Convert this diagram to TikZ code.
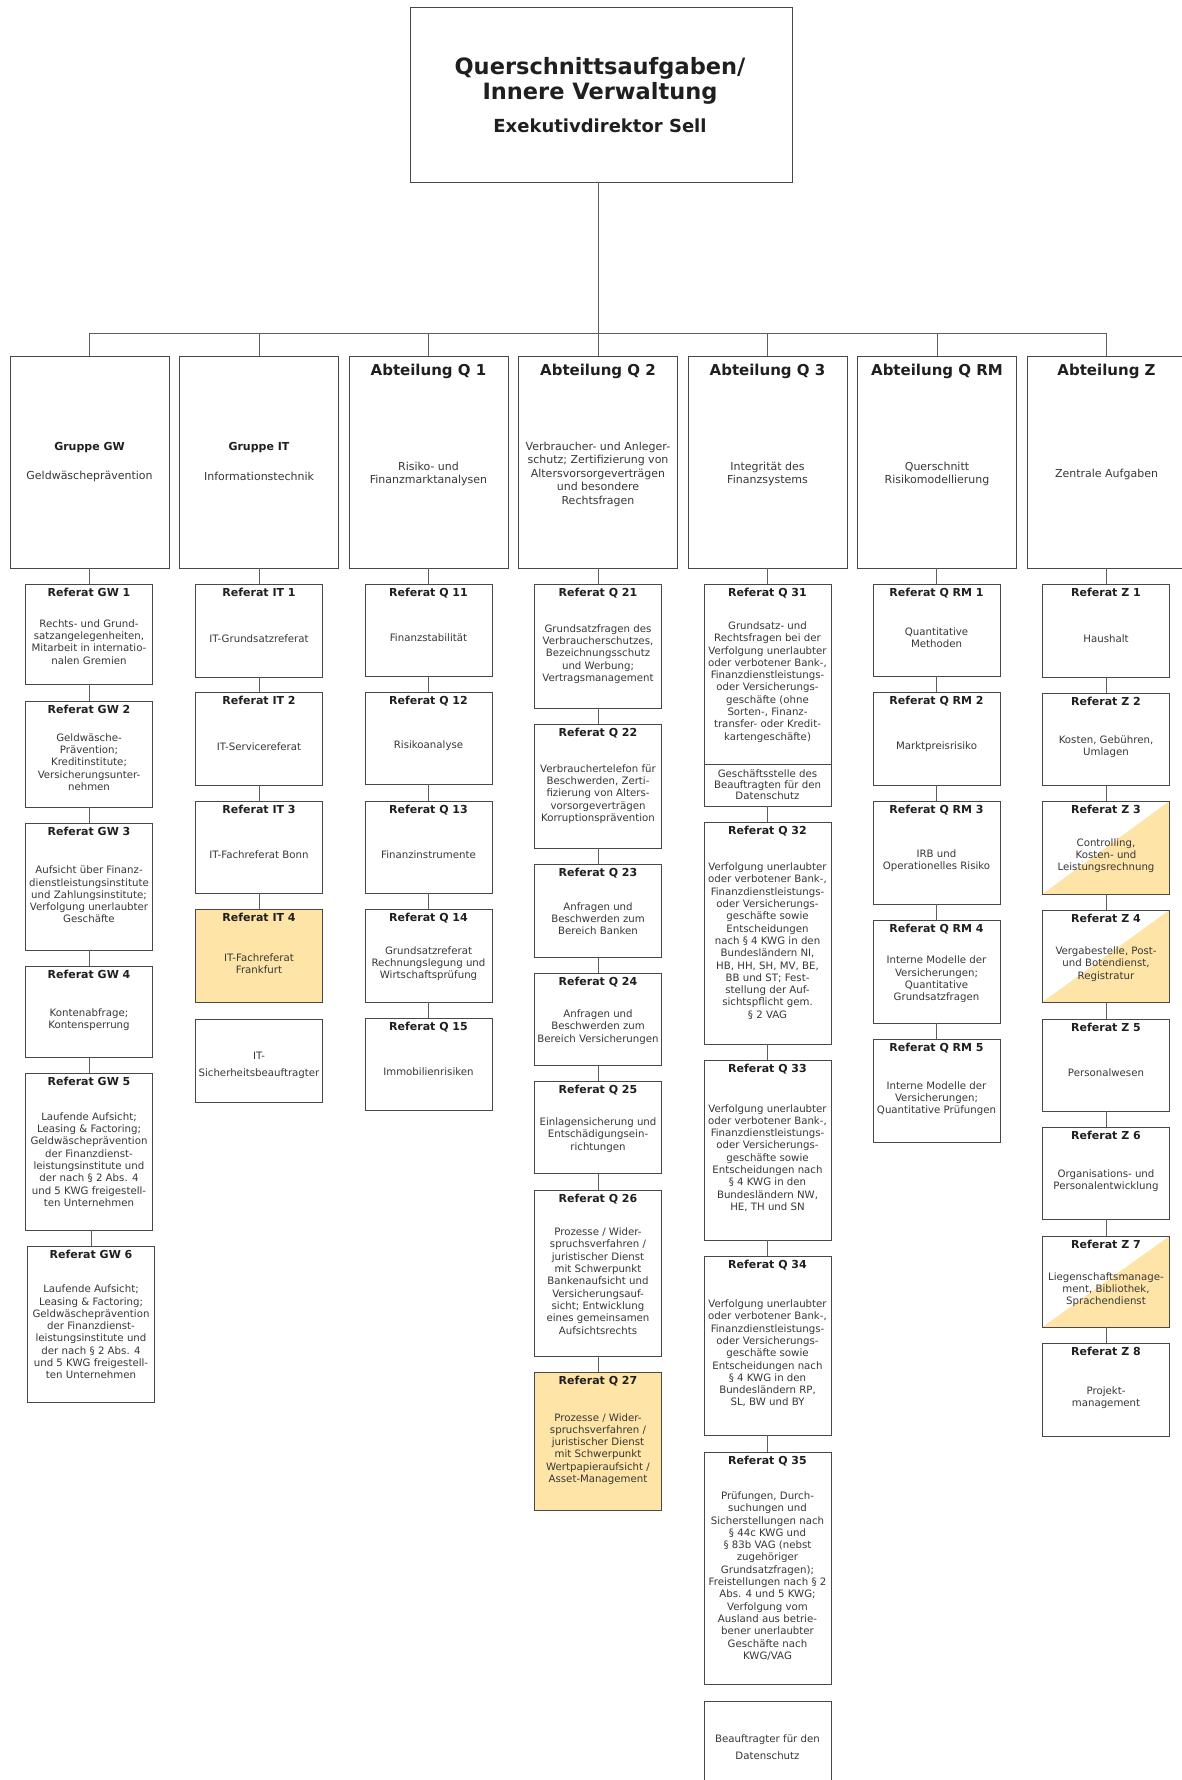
\documentclass[tikz,border=0pt]{standalone}
\usepackage{fontspec}
\setmainfont{DejaVu Sans}

\definecolor{gelb}{RGB}{254,228,166}
\definecolor{rahmen}{RGB}{72,72,72}
\definecolor{linie}{RGB}{95,95,95}
\definecolor{schrift}{RGB}{55,55,55}

% Referat: [style]{name}{x}{top}{bottom}{title}{text}
\newcommand*{\referat}[7][]{%
  \node[refbox,#1,minimum height={#5-#4}] (#2) at (#3,{(#4+#5)/2}) {};
  \node[reftitle] (#2t) at (#3,{#4+12.5}) {#6};
  \node[reftext] (#2x) at (#3,{(#4+16+#5)/2}) {#7};
}
% Abteilung: {name}{x}{title}{text}
\newcommand*{\abteilung}[4]{%
  \node[abtbox] (#1) at (#2,462) {};
  \node[abttitle] (#1t) at (#2,375) {#3};
  \node[abttext] (#1x) at (#2,474) {#4};
}
% Gruppe: {name}{x}{title}{text}
\newcommand*{\gruppe}[4]{%
  \node[abtbox] (#1) at (#2,462) {};
  \node[grptitle] (#1t) at (#2,448) {#3};
  \node[abttext] (#1x) at (#2,476) {#4};
}

\begin{document}
\begin{tikzpicture}
[
	x=1pt, y=-1pt,
	box/.style={draw=rahmen,line width=0.95pt,fill=white,inner sep=0pt},
	refbox/.style={box,minimum width=127pt},
	abtbox/.style={box,minimum width=159pt,minimum height=212pt},
	gelbbox/.style={fill=gelb},
	halbgelb/.style={path picture={\fill[gelb] (path picture bounding box.south west)
		-- (path picture bounding box.north east) -- (path picture bounding box.south east) -- cycle;}},
	reftitle/.style={font=\fontsize{11}{13}\selectfont\bfseries,text=black!88,anchor=base,inner sep=0pt},
	reftext/.style={font=\fontsize{10.2}{12.3}\selectfont,text=schrift,align=center,inner sep=0pt},
	weittext/.style={reftext,font=\fontsize{10.2}{17}\selectfont},
	abttitle/.style={font=\fontsize{15}{17}\selectfont\bfseries,text=black!88,anchor=base,inner sep=0pt},
	grptitle/.style={font=\fontsize{11}{13}\selectfont\bfseries,text=black!88,inner sep=0pt},
	abttext/.style={font=\fontsize{11}{13.5}\selectfont,text=schrift,align=center,inner sep=0pt},
	verbinder/.style={draw=linie,line width=0.95pt}
]
	\useasboundingbox (0,0) rectangle (1181,1780);

	% top
	\node[box,minimum width=382pt,minimum height=175pt] (top) at (601,94.5) {};
	\node[font=\fontsize{22.5}{25}\selectfont\bfseries,text=black!88,align=center,inner sep=0pt]
		(topt) at (600,80.5) {Querschnittsaufgaben/\\Innere Verwaltung};
	\node[font=\fontsize{18}{20}\selectfont\bfseries,text=black!88,inner sep=0pt]
		(tops) at (600,126) {Exekutivdirektor Sell};

	% Gruppen und Abteilungen
	\gruppe{hgw}{89.5}{Gruppe GW}{Geldwäscheprävention}
	\gruppe{hit}{259}{Gruppe IT}{Informationstechnik}
	\abteilung{hq1}{428.5}{Abteilung Q 1}{Risiko- und\\Finanzmarktanalysen}
	\abteilung{hq2}{598}{Abteilung Q 2}{Verbraucher- und Anleger-\\schutz; Zertifizierung von\\Altersvorsorgeverträgen\\und besondere\\Rechtsfragen}
	\abteilung{hq3}{767.5}{Abteilung Q 3}{Integrität des\\Finanzsystems}
	\abteilung{hrm}{937}{Abteilung Q RM}{Querschnitt\\Risikomodellierung}
	\abteilung{hz}{1106.5}{Abteilung Z}{Zentrale Aufgaben}

	\coordinate (bus) at (598,333);
	\draw[verbinder] (bus) -- (bus |- top.south);
	\foreach \h in {hgw,hit,hq1,hq2,hq3,hrm,hz}
		\draw[verbinder] (\h.north) |- (bus);

	% GW
	\referat{gw1}{89}{584}{684}{Referat GW 1}{Rechts- und Grund-\\satzangelegenheiten,\\Mitarbeit in internatio-\\nalen Gremien}
	\referat{gw2}{89}{701}{807}{Referat GW 2}{Geldwäsche-\\Prävention;\\Kreditinstitute;\\Versicherungsunter-\\nehmen}
	\referat{gw3}{89}{823}{950}{Referat GW 3}{Aufsicht über Finanz-\\dienstleistungsinstitute\\und Zahlungsinstitute;\\Verfolgung unerlaubter\\Geschäfte}
	\referat{gw4}{89}{966}{1057}{Referat GW 4}{Kontenabfrage;\\Kontensperrung}
	\referat{gw5}{89}{1073}{1230}{Referat GW 5}{Laufende Aufsicht;\\Leasing \& Factoring;\\Geldwäscheprävention\\der Finanzdienst-\\leistungsinstitute und\\der nach § 2 Abs. 4\\und 5 KWG freigestell-\\ten Unternehmen}
	\referat{gw6}{91}{1246}{1402}{Referat GW 6}{Laufende Aufsicht;\\Leasing \& Factoring;\\Geldwäscheprävention\\der Finanzdienst-\\leistungsinstitute und\\der nach § 2 Abs. 4\\und 5 KWG freigestell-\\ten Unternehmen}

	% IT
	\referat{it1}{259}{584}{677}{Referat IT 1}{IT-Grundsatzreferat}
	\referat{it2}{259}{692}{785}{Referat IT 2}{IT-Servicereferat}
	\referat{it3}{259}{801}{893}{Referat IT 3}{IT-Fachreferat Bonn}
	\referat[gelbbox]{it4}{259}{909}{1002}{Referat IT 4}{IT-Fachreferat\\Frankfurt}
	\node[refbox,minimum height=83pt] (itsb) at (259,1060.5) {};
	\node[weittext] (itsbx) at (259,1065) {IT-\\Sicherheitsbeauftragter};

	% Q 1
	\referat{q11}{428.5}{584}{676}{Referat Q 11}{Finanzstabilität}
	\referat{q12}{428.5}{692}{784}{Referat Q 12}{Risikoanalyse}
	\referat{q13}{428.5}{801}{893}{Referat Q 13}{Finanzinstrumente}
	\referat{q14}{428.5}{909}{1002}{Referat Q 14}{Grundsatzreferat\\Rechnungslegung und\\Wirtschaftsprüfung}
	\referat{q15}{428.5}{1018}{1110}{Referat Q 15}{Immobilienrisiken}

	% Q 2
	\referat{q21}{598}{584}{708}{Referat Q 21}{Grundsatzfragen des\\Verbraucherschutzes,\\Bezeichnungsschutz\\und Werbung;\\Vertragsmanagement}
	\referat{q22}{598}{724}{848}{Referat Q 22}{Verbrauchertelefon für\\Beschwerden, Zerti-\\fizierung von Alters-\\vorsorgeverträgen\\Korruptionsprävention}
	\referat{q23}{598}{864}{957}{Referat Q 23}{Anfragen und\\Beschwerden zum\\Bereich Banken}
	\referat{q24}{598}{973}{1065}{Referat Q 24}{Anfragen und\\Beschwerden zum\\Bereich Versicherungen}
	\referat{q25}{598}{1081}{1173}{Referat Q 25}{Einlagensicherung und\\Entschädigungsein-\\richtungen}
	\referat{q26}{598}{1190}{1356}{Referat Q 26}{Prozesse / Wider-\\spruchsverfahren /\\juristischer Dienst\\mit Schwerpunkt\\Bankenaufsicht und\\Versicherungsauf-\\sicht; Entwicklung\\eines gemeinsamen\\Aufsichtsrechts}
	\referat[gelbbox]{q27}{598}{1372}{1510}{Referat Q 27}{Prozesse / Wider-\\spruchsverfahren /\\juristischer Dienst\\mit Schwerpunkt\\Wertpapieraufsicht /\\Asset-Management}

	% Q 3
	\referat{q31}{767.5}{584}{764}{Referat Q 31}{Grundsatz- und\\Rechtsfragen bei der\\Verfolgung unerlaubter\\oder verbotener Bank-,\\Finanzdienstleistungs-\\oder Versicherungs-\\geschäfte (ohne\\Sorten-, Finanz-\\transfer- oder Kredit-\\kartengeschäfte)}
	\node[refbox,minimum height=42pt] (q31g) at (767.5,785) {};
	\node[reftext,font=\fontsize{10.2}{11}\selectfont] (q31gx) at (767.5,784.5) {Geschäftsstelle des\\Beauftragten für den\\Datenschutz};
	\referat{q32}{767.5}{822}{1044}{Referat Q 32}{Verfolgung unerlaubter\\oder verbotener Bank-,\\Finanzdienstleistungs-\\oder Versicherungs-\\geschäfte sowie\\Entscheidungen\\nach § 4 KWG in den\\Bundesländern NI,\\HB, HH, SH, MV, BE,\\BB und ST; Fest-\\stellung der Auf-\\sichtspflicht gem.\\§ 2 VAG}
	\referat{q33}{767.5}{1060}{1240}{Referat Q 33}{Verfolgung unerlaubter\\oder verbotener Bank-,\\Finanzdienstleistungs-\\oder Versicherungs-\\geschäfte sowie\\Entscheidungen nach\\§ 4 KWG in den\\Bundesländern NW,\\HE, TH und SN}
	\referat{q34}{767.5}{1256}{1435}{Referat Q 34}{Verfolgung unerlaubter\\oder verbotener Bank-,\\Finanzdienstleistungs-\\oder Versicherungs-\\geschäfte sowie\\Entscheidungen nach\\§ 4 KWG in den\\Bundesländern RP,\\SL, BW und BY}
	\referat{q35}{767.5}{1452}{1684}{Referat Q 35}{Prüfungen, Durch-\\suchungen und\\Sicherstellungen nach\\§ 44c KWG und\\§ 83b VAG (nebst\\zugehöriger\\Grundsatzfragen);\\Freistellungen nach § 2\\Abs. 4 und 5 KWG;\\Verfolgung vom\\Ausland aus betrie-\\bener unerlaubter\\Geschäfte nach\\KWG/VAG}
	\node[refbox,minimum height=92pt] (bfd) at (767.5,1747) {};
	\node[weittext] (bfdx) at (767.5,1747) {Beauftragter für den\\Datenschutz};

	% Q RM
	\referat{rm1}{936.5}{584}{676}{Referat Q RM 1}{Quantitative\\Methoden}
	\referat{rm2}{936.5}{692}{785}{Referat Q RM 2}{Marktpreisrisiko}
	\referat{rm3}{936.5}{801}{904}{Referat Q RM 3}{IRB und\\Operationelles Risiko}
	\referat{rm4}{936.5}{920}{1023}{Referat Q RM 4}{Interne Modelle der\\Versicherungen;\\Quantitative\\Grundsatzfragen}
	\referat{rm5}{936.5}{1039}{1142}{Referat Q RM 5}{Interne Modelle der\\Versicherungen;\\Quantitative Prüfungen}

	% Z
	\referat{z1}{1106}{584}{677}{Referat Z 1}{Haushalt}
	\referat{z2}{1106}{693}{785}{Referat Z 2}{Kosten, Gebühren,\\Umlagen}
	\referat[halbgelb]{z3}{1106}{801}{894}{Referat Z 3}{Controlling,\\Kosten- und\\Leistungsrechnung}
	\referat[halbgelb]{z4}{1106}{910}{1002}{Referat Z 4}{Vergabestelle, Post-\\und Botendienst,\\Registratur}
	\referat{z5}{1106}{1019}{1111}{Referat Z 5}{Personalwesen}
	\referat{z6}{1106}{1127}{1219}{Referat Z 6}{Organisations- und\\Personalentwicklung}
	\referat[halbgelb]{z7}{1106}{1236}{1327}{Referat Z 7}{Liegenschaftsmanage-\\ment, Bibliothek,\\Sprachendienst}
	\referat{z8}{1106}{1343}{1436}{Referat Z 8}{Projekt-\\management}

	% connectors
	\foreach \a/\b in {hgw/gw1,gw1/gw2,gw2/gw3,gw3/gw4,gw4/gw5,gw5/gw6,
		hit/it1,it1/it2,it2/it3,it3/it4,
		hq1/q11,q11/q12,q12/q13,q13/q14,q14/q15,
		hq2/q21,q21/q22,q22/q23,q23/q24,q24/q25,q25/q26,q26/q27,
		hq3/q31,q31g/q32,q32/q33,q33/q34,q34/q35,
		hrm/rm1,rm1/rm2,rm2/rm3,rm3/rm4,rm4/rm5,
		hz/z1,z1/z2,z2/z3,z3/z4,z4/z5,z5/z6,z6/z7,z7/z8}
		\draw[verbinder] (\b.north) -- (\b.north |- \a.south);

\end{tikzpicture}
\end{document}
